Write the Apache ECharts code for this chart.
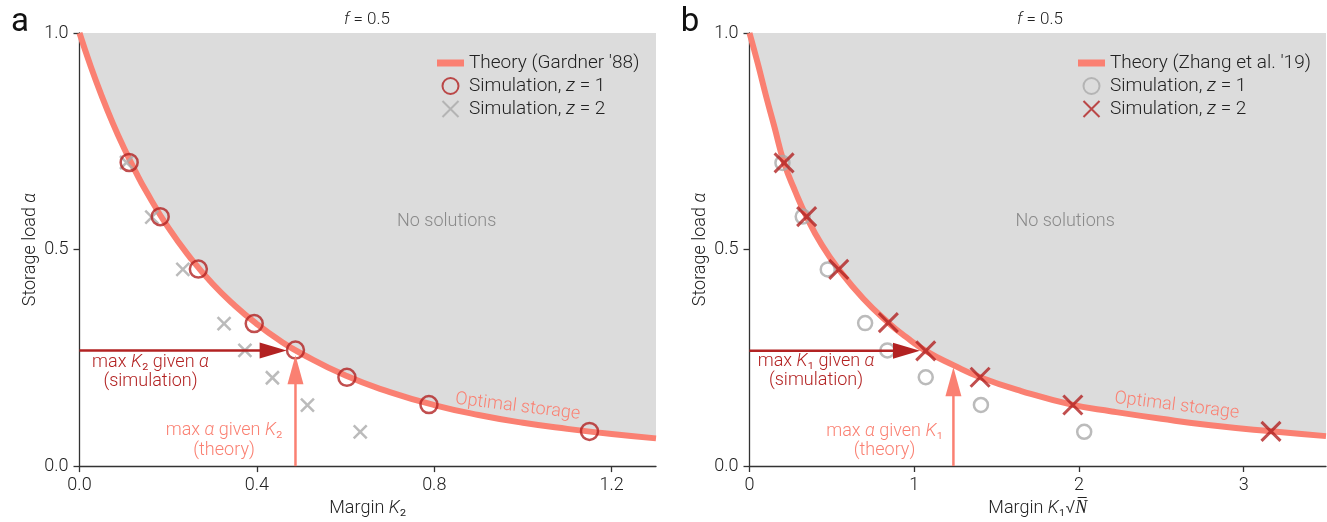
<!DOCTYPE html>
<html><head><meta charset="utf-8">
<script src="https://cdn.jsdelivr.net/npm/echarts@6/dist/echarts.min.js"></script>
<style>html,body{margin:0;padding:0;background:#fff}#c{width:1327px;height:522px}</style>
</head><body><div id="c"></div>
<script>
// ---------------- data ----------------
// Panel a: margin K2 vs storage load alpha
const theoryA = [[0,1.0],[0.025,0.924],[0.05,0.855],[0.075,0.792],[0.1,0.735],[0.125,0.683],[0.15,0.635],[0.2,0.551],[0.25,0.481],[0.3,0.421],[0.35,0.371],[0.4,0.328],[0.45,0.291],[0.5,0.260],[0.6,0.209],[0.7,0.171],[0.8,0.141],[0.9,0.118],[1.0,0.100],[1.1,0.086],[1.2,0.074],[1.3,0.064]];
const simA_z1 = [[0.112,0.701],[0.182,0.576],[0.268,0.455],[0.394,0.329],[0.487,0.268],[0.603,0.205],[0.788,0.142],[1.150,0.080]];
const simA_z2 = [[0.106,0.701],[0.163,0.575],[0.233,0.454],[0.326,0.329],[0.373,0.267],[0.435,0.204],[0.514,0.141],[0.633,0.079]];
const simArrowA = [[0,0.267,0.467,0.267]];
const theoryArrowA = [[0.487,0,0.487,0.256]];
// Panel b: margin K1*sqrt(N) vs storage load alpha
const theoryB = [[0,1.0],[0.05,0.93],[0.1,0.855],[0.15,0.785],[0.21,0.700],[0.28,0.632],[0.347,0.575],[0.44,0.510],[0.542,0.454],[0.69,0.387],[0.843,0.331],[0.95,0.298],[1.07,0.266],[1.238,0.233],[1.40,0.205],[1.65,0.173],[1.963,0.141],[2.2,0.126],[2.5,0.109],[2.8,0.094],[3.166,0.080],[3.5,0.069]];
const simB_z1 = [[0.200,0.700],[0.323,0.576],[0.475,0.454],[0.702,0.330],[0.837,0.267],[1.070,0.205],[1.405,0.141],[2.032,0.079]];
const simB_z2 = [[0.210,0.700],[0.347,0.576],[0.542,0.454],[0.843,0.331],[1.070,0.266],[1.400,0.205],[1.963,0.141],[3.166,0.080]];
const simArrowB = [[0,0.266,1.035,0.266]];
const theoryArrowB = [[1.238,0,1.238,0.228]];
// ticks
const xTicksA = [0, 0.4, 0.8, 1.2];
const xTicksB = [0, 1, 2, 3];
const yTicks = [0, 0.5, 1.0];

// ---------------- styling ----------------
const FONT = 'Roboto';
const FW = 300;
const DARK = '#b22222', SALMON = '#fa8072', GREY = '#aaaaaa', FILL = '#dcdcdc', INK = '#222222', AX = '#333333';
const CROSS = 'path://M0,0L10,10M10,0L0,10';
const CLEAR = 'rgba(0,0,0,0)';

function richOpt(color, size){
  return {
    t:{color:color,fontSize:size,fontFamily:FONT,fontWeight:FW},
    i:{color:color,fontSize:size,fontFamily:FONT,fontWeight:FW,fontStyle:'italic'}
  };
}
function richZr(color, size){
  return {
    t:{fill:color,fontSize:size,fontFamily:FONT,fontWeight:FW},
    i:{fill:color,fontSize:size,fontFamily:FONT,fontWeight:FW,fontStyle:'italic'}
  };
}

function xAxis(gi, max, ticks, fmt, name, gap){
  return {
    gridIndex:gi, type:'value', min:0, max:max,
    axisLine:{show:true,onZero:false,lineStyle:{color:AX,width:1.3}},
    axisTick:{show:true,length:6,customValues:ticks,lineStyle:{color:AX,width:1.3}},
    axisLabel:{customValues:ticks,formatter:fmt,margin:10,color:INK,fontSize:18,fontFamily:FONT,fontWeight:FW},
    splitLine:{show:false},
    name:name, nameLocation:'middle', nameGap:gap,
    nameTextStyle:{color:INK,fontSize:18,fontFamily:FONT,fontWeight:FW,rich:richOpt(INK,18)}
  };
}
function yAxis(gi){
  return {
    gridIndex:gi, type:'value', min:0, max:1,
    axisLine:{show:true,onZero:false,lineStyle:{color:AX,width:1.3}},
    axisTick:{show:true,length:6,customValues:yTicks,lineStyle:{color:AX,width:1.3}},
    axisLabel:{customValues:yTicks,formatter:v=>v.toFixed(1),margin:11,color:INK,fontSize:18,fontFamily:FONT,fontWeight:FW},
    splitLine:{show:false},
    name:'{t|Storage load }{i|α}', nameLocation:'middle', nameGap:40,
    nameTextStyle:{color:INK,fontSize:18,fontFamily:FONT,fontWeight:FW,rich:richOpt(INK,18)}
  };
}

function arrowSeries(gi, data, color, headLen, headW){
  return {
    type:'custom', coordinateSystem:'cartesian2d', xAxisIndex:gi, yAxisIndex:gi, z:6, silent:true,
    data:data, encode:{x:[0,2],y:[1,3]},
    renderItem:function(params, api){
      const p1 = api.coord([api.value(0), api.value(1)]);
      const p2 = api.coord([api.value(2), api.value(3)]);
      const dx = p2[0]-p1[0], dy = p2[1]-p1[1];
      const L = Math.sqrt(dx*dx+dy*dy);
      const ux = dx/L, uy = dy/L, px = -uy, py = ux;
      const bx = p2[0]-ux*headLen, by = p2[1]-uy*headLen;
      return {type:'group', children:[
        {type:'line', shape:{x1:p1[0],y1:p1[1],x2:bx+ux*2,y2:by+uy*2}, style:{stroke:color,lineWidth:2.5}},
        {type:'polygon', shape:{points:[[p2[0],p2[1]],[bx+px*headW/2,by+py*headW/2],[bx-px*headW/2,by-py*headW/2]]}, style:{fill:color}}
      ]};
    }
  };
}

function labelSeries(gi, list){
  return {
    type:'custom', coordinateSystem:'cartesian2d', xAxisIndex:gi, yAxisIndex:gi, z:7, silent:true,
    data:list.map(a=>a.at), encode:{x:0,y:1},
    renderItem:function(params, api){
      const a = list[params.dataIndex];
      const p = api.coord([api.value(0), api.value(1)]);
      return {type:'text', x:p[0], y:p[1], rotation:(a.rot||0)*Math.PI/180,
        style:{text:a.text, fill:a.color, fontSize:a.size, fontFamily:FONT, fontWeight:FW,
               align:'center', verticalAlign:'middle', rich:richZr(a.color, a.size)}};
    }
  };
}

const labelsA = [
  {at:[0.828,0.564], text:'No solutions', color:'#8a8a8a', size:18},
  {at:[0.988,0.137], text:'Optimal storage', color:SALMON, size:18, rot:-7},
  {at:[0.160,0.240], text:'max {i|K}₂ given {i|α}', color:DARK, size:18},
  {at:[0.160,0.196], text:'(simulation)', color:DARK, size:18},
  {at:[0.326,0.082], text:'max {i|α} given {i|K}₂', color:SALMON, size:18},
  {at:[0.326,0.036], text:'(theory)', color:SALMON, size:18}
];
const labelsB = [
  {at:[1.916,0.564], text:'No solutions', color:'#8a8a8a', size:18},
  {at:[2.594,0.139], text:'Optimal storage', color:SALMON, size:18, rot:-7},
  {at:[0.404,0.241], text:'max {i|K}₁ given {i|α}', color:DARK, size:18},
  {at:[0.404,0.197], text:'(simulation)', color:DARK, size:18},
  {at:[0.820,0.079], text:'max {i|α} given {i|K}₁', color:SALMON, size:18},
  {at:[0.820,0.035], text:'(theory)', color:SALMON, size:18}
];

const legendNames = {
  theoryA:"Theory (Gardner '88)", simA_z1:'Simulation, {i|z} = 1', simA_z2:'Simulation, {i|z} = 2',
  theoryB:"Theory (Zhang et al. '19)", simB_z1:'Simulation, {i|z} = 1', simB_z2:'Simulation, {i|z} = 2'
};
const SWATCH = 'path://M0,0L27,0L27,7L0,7Z';
function legend(left, names){
  return {
    left:left, top:47, orient:'vertical', itemWidth:27, itemHeight:16, itemGap:1, selectedMode:false,
    data:names,
    formatter:n=>legendNames[n],
    textStyle:{color:INK,fontSize:19,fontFamily:FONT,fontWeight:FW,lineHeight:22,
      rich:{i:{color:INK,fontSize:19,fontFamily:FONT,fontWeight:FW,fontStyle:'italic',lineHeight:22}}}
  };
}

function panelSeries(gi, theory, z1, z2, simArrow, theoArrow, labels, tName, n1, n2, z1Style, z2Style){
  return [
    {type:'line', xAxisIndex:gi, yAxisIndex:gi, data:theory, showSymbol:false, smooth:true, silent:true, z:1,
      lineStyle:{width:0, opacity:0}, areaStyle:{color:FILL, opacity:1, origin:'end'}},
    {type:'line', name:tName, xAxisIndex:gi, yAxisIndex:gi, data:theory, showSymbol:false, smooth:true, silent:true, z:2,
      lineStyle:{width:6, color:SALMON}, itemStyle:{color:SALMON}},
    Object.assign({type:'scatter', xAxisIndex:gi, yAxisIndex:gi, silent:true}, z1Style, {name:n1, data:z1}),
    Object.assign({type:'scatter', xAxisIndex:gi, yAxisIndex:gi, silent:true}, z2Style, {name:n2, data:z2}),
    arrowSeries(gi, simArrow, DARK, 27, 16),
    arrowSeries(gi, theoArrow, SALMON, 29, 16),
    labelSeries(gi, labels)
  ];
}

const option = {
  animation:false,
  textStyle:{fontFamily:FONT},
  grid:[
    {left:79.5, top:33, width:576.5, height:438},
    {left:749.5, top:33, width:576.5, height:433}
  ],
  xAxis:[
    xAxis(0, 1.3, xTicksA, v=>v.toFixed(1), '{t|Margin }{i|K}{t|₂}', 28),
    xAxis(1, 3.5, xTicksB, v=>String(Math.round(v)), '{t|Margin }{i|K}{t|₁√}{i|N\u0305}', 33)
  ],
  yAxis:[yAxis(0), yAxis(1)],
  legend:[
    legend(432, [{name:'theoryA', icon:SWATCH, itemStyle:{color:SALMON, borderWidth:0}}, {name:'simA_z1', icon:'circle'}, {name:'simA_z2', icon:CROSS}]),
    legend(1073, [{name:'theoryB', icon:SWATCH, itemStyle:{color:SALMON, borderWidth:0}}, {name:'simB_z1', icon:'circle'}, {name:'simB_z2', icon:CROSS}])
  ],
  graphic:[
    {type:'text', x:367, y:20, style:{text:'{i|f} = 0.5', fill:INK, fontSize:17, fontFamily:FONT, fontWeight:FW, align:'center', verticalAlign:'middle', rich:richZr(INK,17)}},
    {type:'text', x:1040, y:20, style:{text:'{i|f} = 0.5', fill:INK, fontSize:17, fontFamily:FONT, fontWeight:FW, align:'center', verticalAlign:'middle', rich:richZr(INK,17)}},
    {type:'text', x:20, y:23, style:{text:'a', fill:'#111', fontSize:33, fontFamily:FONT, fontWeight:400, align:'center', verticalAlign:'middle'}},
    {type:'text', x:690, y:23, style:{text:'b', fill:'#111', fontSize:33, fontFamily:FONT, fontWeight:400, align:'center', verticalAlign:'middle'}}
  ],
  series:[].concat(
    panelSeries(0, theoryA, simA_z1, simA_z2, simArrowA, theoryArrowA, labelsA, 'theoryA', 'simA_z1', 'simA_z2',
      {symbol:'circle', symbolSize:17, z:4, itemStyle:{color:CLEAR, borderColor:DARK, borderWidth:2.5}},
      {symbol:CROSS, symbolSize:13, z:3, itemStyle:{color:CLEAR, borderColor:GREY, borderWidth:2.5}}),
    panelSeries(1, theoryB, simB_z1, simB_z2, simArrowB, theoryArrowB, labelsB, 'theoryB', 'simB_z1', 'simB_z2',
      {symbol:'circle', symbolSize:14, z:3, itemStyle:{color:CLEAR, borderColor:GREY, borderWidth:2.5}},
      {symbol:CROSS, symbolSize:19, z:4, itemStyle:{color:CLEAR, borderColor:DARK, borderWidth:3}})
  )
};
const chart = echarts.init(document.getElementById('c'));
chart.setOption(option);
</script>
</body></html>
